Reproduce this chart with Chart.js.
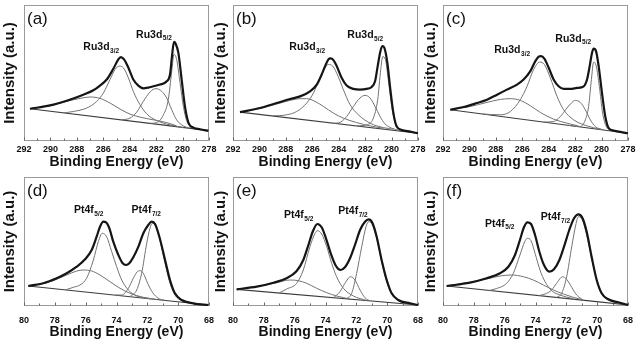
<!DOCTYPE html>
<html><head><meta charset="utf-8">
<script src="https://cdn.jsdelivr.net/npm/chart.js@4.4.1/dist/chart.umd.min.js"></script>
<style>
html,body{margin:0;padding:0;background:#fff;}
body{width:637px;height:341px;position:relative;overflow:hidden;}
canvas{position:absolute;}
</style></head><body>
<canvas id="ca" width="218" height="170" style="left:0px;top:0px"></canvas>
<canvas id="cb" width="218" height="170" style="left:210px;top:0px"></canvas>
<canvas id="cc" width="217" height="170" style="left:420px;top:0px"></canvas>
<canvas id="cd" width="218" height="171" style="left:0px;top:170px"></canvas>
<canvas id="ce" width="218" height="171" style="left:210px;top:170px"></canvas>
<canvas id="cf" width="217" height="171" style="left:420px;top:170px"></canvas>
<script>
// ---------- tick labels ----------
const ruTickLabels = [292, 290, 288, 286, 284, 282, 280, 278];
const ptTickLabels = [80, 78, 76, 74, 72, 70, 68];

// ---------- panel (a) Ru3d ----------  [binding energy (eV), intensity (a.u.)]
const a_background = [[291.55,32.0],[278.05,10.3]];
const a_envelope = [[291.55,32.0],[290.03,35.3],[288.77,40.0],[287.51,46.0],[286.75,50.3],[286.25,55.0],[285.74,61.0],[285.24,71.7],[284.86,81.0],[284.68,83.3],[284.43,81.0],[284.10,72.7],[283.73,61.0],[283.35,55.0],[282.97,52.3],[282.59,53.0],[282.21,54.3],[281.71,56.0],[281.20,59.3],[280.95,66.0],[280.80,84.3],[280.65,98.3],[280.52,96.5],[280.32,87.7],[280.07,61.0],[279.82,34.3],[279.56,18.3],[279.18,13.3],[278.68,11.7],[278.05,10.0]];
const a_peak1 = [[291.55,32.0],[290.03,35.0],[288.77,39.3],[287.76,42.3],[287.00,43.7],[286.25,42.3],[285.49,37.7],[284.73,31.7],[283.98,26.7],[283.22,23.7],[282.21,21.0],[281.20,18.3],[280.45,15.0]];
const a_peak2 = [[289.0,27.9],[288.27,29.3],[287.26,32.7],[286.50,39.3],[285.99,47.7],[285.49,61.0],[285.11,71.0],[284.79,74.3],[284.48,72.7],[284.10,62.7],[283.73,49.3],[283.22,36.0],[282.72,27.0],[281.96,20.3],[280.95,16.0],[279.94,13.3]];
const a_peak3 = [[284.6,21.0],[283.98,22.7],[283.47,28.7],[282.97,39.3],[282.46,48.7],[282.01,52.0],[281.58,49.3],[281.20,42.7],[280.82,31.0],[280.45,21.0],[279.94,15.0],[279.44,12.7]];
const a_peak4 = [[282.5,17.5],[281.96,18.3],[281.45,26.0],[281.08,41.0],[280.82,69.3],[280.65,86.0],[280.45,81.0],[280.19,57.7],[279.94,34.3],[279.69,20.3],[279.31,14.3],[278.68,12.0]];

// ---------- panel (b) Ru3d ----------
const b_background = [[291.47,28.7],[278.0,7.7]];
const b_envelope = [[291.47,28.7],[289.95,32.7],[288.69,37.7],[287.68,41.7],[286.92,44.3],[286.17,49.3],[285.66,56.0],[285.29,66.0],[285.03,74.3],[284.78,81.0],[284.61,82.0],[284.40,80.3],[284.15,74.3],[283.78,62.7],[283.40,55.0],[282.89,51.7],[282.39,51.0],[281.89,51.7],[281.51,53.7],[281.25,59.3],[281.05,74.3],[280.87,87.7],[280.70,94.3],[280.55,92.7],[280.32,77.7],[280.12,54.3],[279.86,27.7],[279.61,14.3],[279.23,11.0],[278.60,9.3],[278.0,7.7]];
const b_peak1 = [[291.47,28.7],[289.95,32.3],[288.69,36.7],[287.68,40.3],[286.92,42.0],[286.42,42.0],[285.79,39.3],[285.16,34.3],[284.40,27.7],[283.65,22.7],[282.64,18.3],[281.63,15.0],[280.62,12.7]];
const b_peak2 = [[289.0,24.9],[287.94,26.0],[287.18,29.3],[286.42,37.7],[285.91,47.7],[285.41,62.7],[285.03,72.7],[284.78,76.0],[284.45,74.3],[284.03,63.7],[283.65,51.0],[283.14,36.0],[282.51,26.0],[281.63,17.7],[280.62,13.3],[279.86,11.7]];
const b_peak3 = [[284.5,17.6],[284.03,17.9],[283.40,24.3],[282.89,34.3],[282.39,42.7],[282.01,45.3],[281.63,42.7],[281.25,34.3],[280.87,24.3],[280.50,17.0],[279.99,12.7],[279.36,10.3]];
const b_peak4 = [[282.6,15.0],[281.89,16.0],[281.38,22.7],[281.05,41.0],[280.82,71.0],[280.67,83.7],[280.47,81.0],[280.25,61.0],[279.99,34.3],[279.74,18.3],[279.36,11.7],[278.60,9.7]];

// ---------- panel (c) Ru3d ----------
const c_background = [[291.45,31.0],[278.0,7.7]];
const c_envelope = [[291.45,31.0],[290.44,33.7],[289.43,37.7],[288.67,41.0],[287.91,46.0],[287.16,51.0],[286.40,56.0],[285.90,61.0],[285.39,69.3],[285.01,79.3],[284.76,83.7],[284.58,84.3],[284.33,81.7],[284.00,72.7],[283.63,61.0],[283.25,54.3],[282.87,51.7],[282.36,51.7],[281.86,52.7],[281.35,54.3],[281.10,61.0],[280.90,74.3],[280.72,87.7],[280.60,91.7],[280.42,89.3],[280.22,74.3],[279.97,47.7],[279.72,24.3],[279.46,12.7],[279.08,10.3],[278.58,9.0],[278.0,7.7]];
const c_peak1 = [[291.45,31.0],[289.93,34.3],[288.67,38.3],[287.66,41.3],[286.90,42.0],[286.15,40.3],[285.39,35.0],[284.63,28.3],[283.63,21.7],[282.62,17.7],[281.61,14.3]];
const c_peak2 = [[289.0,26.8],[287.66,26.0],[286.90,29.3],[286.15,41.0],[285.64,54.3],[285.14,71.0],[284.69,78.3],[284.33,76.0],[283.88,62.7],[283.37,44.3],[282.87,31.0],[282.11,21.0],[281.10,15.0],[280.09,11.7]];
const c_peak3 = [[284.4,18.8],[283.63,19.3],[283.12,24.3],[282.62,32.7],[282.24,38.3],[281.99,40.3],[281.61,38.3],[281.23,31.0],[280.85,21.0],[280.47,14.3],[279.84,11.0]];
const c_peak4 = [[282.5,15.6],[281.61,14.3],[281.23,21.0],[280.98,34.3],[280.77,61.0],[280.60,78.3],[280.40,74.3],[280.17,54.3],[279.92,27.7],[279.64,14.3],[279.21,10.3]];

// ---------- panel (d) Pt4f ----------
const d_background = [[79.72,20.0],[68.04,1.0]];
const d_envelope = [[79.72,20.0],[78.75,22.7],[77.88,27.7],[77.23,32.7],[76.58,39.3],[76.04,46.7],[75.61,56.0],[75.29,69.3],[75.07,79.3],[74.85,84.3],[74.68,83.7],[74.46,77.7],[74.21,64.3],[73.88,51.0],[73.60,42.7],[73.38,41.0],[73.17,42.7],[72.91,48.7],[72.58,59.3],[72.26,72.7],[71.94,81.0],[71.72,84.3],[71.50,82.0],[71.22,69.3],[70.85,46.0],[70.53,26.0],[70.21,12.7],[69.77,6.0],[69.02,2.7],[68.04,1.0]];
const d_peak1 = [[79.72,20.0],[78.31,24.3],[77.23,31.0],[76.58,35.0],[76.15,36.0],[75.61,35.0],[75.07,31.0],[74.42,24.3],[73.77,17.7],[73.12,12.7],[72.26,8.7],[71.39,6.5]];
const d_peak2 = [[77.3,16.1],[76.80,18.7],[76.37,21.0],[75.94,27.7],[75.50,46.0],[75.18,64.3],[74.92,72.7],[74.64,69.3],[74.31,54.3],[73.99,39.3],[73.66,26.0],[73.23,16.0],[72.69,10.0],[71.83,7.3]];
const d_peak3 = [[74.1,10.9],[73.66,11.0],[73.23,17.7],[72.91,27.7],[72.65,34.3],[72.48,35.3],[72.26,32.7],[71.98,22.7],[71.65,13.3],[71.29,7.7],[70.9,5.7]];
const d_peak4 = [[73.12,9.5],[72.69,16.0],[72.37,32.7],[72.04,62.7],[71.83,77.7],[71.68,82.7],[71.44,79.3],[71.18,66.0],[70.85,42.7],[70.53,22.7],[70.21,11.0],[69.77,5.3],[69.23,3.3]];

// ---------- panel (e) Pt4f ----------
const e_background = [[79.76,16.7],[68.0,1.0]];
const e_envelope = [[79.76,16.7],[78.46,19.3],[77.38,23.3],[76.52,27.7],[75.87,35.0],[75.44,46.0],[75.11,61.0],[74.83,74.3],[74.53,82.0],[74.25,78.7],[73.97,67.7],[73.66,52.7],[73.32,40.0],[73.02,36.0],[72.74,38.7],[72.41,47.7],[72.09,61.0],[71.76,76.0],[71.44,84.3],[71.20,86.7],[70.96,83.3],[70.68,69.3],[70.36,46.0],[70.03,26.0],[69.71,12.7],[69.28,6.0],[68.52,2.7],[68.0,1.0]];
const e_peak1 = [[79.76,16.7],[78.25,20.0],[77.17,23.3],[76.30,26.0],[75.76,25.3],[75.22,22.7],[74.57,17.7],[73.92,13.3],[73.28,10.0],[72.41,7.0]];
const e_peak2 = [[77.0,13.0],[76.52,17.0],[75.87,22.7],[75.44,36.0],[75.01,59.3],[74.68,72.7],[74.53,75.3],[74.25,72.0],[73.92,59.3],[73.60,42.7],[73.28,29.3],[72.84,17.7],[72.19,10.0],[71.33,5.5]];
const e_peak3 = [[73.49,8.2],[73.06,14.3],[72.74,22.7],[72.37,29.3],[72.09,26.0],[71.76,16.0],[71.44,8.3],[71.11,5.1]];
const e_peak4 = [[72.63,7.3],[72.30,12.7],[71.98,32.7],[71.65,59.3],[71.37,79.3],[71.20,84.3],[70.96,81.0],[70.68,67.7],[70.36,44.3],[70.03,24.3],[69.71,12.0],[69.28,5.3],[68.52,2.0]];

// ---------- panel (f) Pt4f ----------
const f_background = [[79.76,20.0],[68.0,1.0]];
const f_envelope = [[79.76,20.0],[78.25,23.3],[77.17,27.7],[76.30,32.7],[75.76,39.3],[75.33,51.0],[75.01,66.0],[74.75,78.7],[74.53,83.7],[74.29,82.0],[74.03,71.0],[73.75,54.3],[73.45,41.0],[73.10,34.3],[72.80,36.7],[72.45,46.0],[72.15,59.3],[71.81,76.0],[71.50,87.7],[71.22,91.7],[70.96,88.3],[70.68,74.3],[70.36,49.3],[70.03,26.0],[69.71,12.7],[69.28,6.7],[68.52,3.3],[68.0,1.0]];
const f_peak1 = [[79.76,20.0],[78.25,23.7],[77.17,27.0],[76.30,30.0],[75.55,31.0],[74.79,29.3],[74.14,26.0],[73.49,21.0],[72.84,16.0],[72.19,12.0],[71.55,8.7],[70.90,6.0]];
const f_peak2 = [[77.0,15.5],[76.52,17.5],[75.87,22.7],[75.44,32.7],[75.01,51.0],[74.70,64.3],[74.53,67.7],[74.29,65.3],[74.03,52.7],[73.71,36.0],[73.38,24.3],[72.95,15.3],[72.41,11.0],[71.55,7.3]];
const f_peak3 = [[73.8,10.4],[73.38,12.0],[72.95,16.0],[72.63,22.7],[72.24,29.3],[71.98,26.7],[71.65,18.7],[71.33,11.0],[70.9,6.0]];
const f_peak4 = [[72.63,8.6],[72.30,12.7],[71.98,29.3],[71.65,59.3],[71.39,81.0],[71.22,89.3],[70.96,86.0],[70.68,71.0],[70.36,47.7],[70.03,26.0],[69.71,12.7],[69.28,6.0],[68.52,2.7]];

// ---------- peak label texts ----------
const ruLabels = [['Ru3d','3/2'],['Ru3d','5/2']];
const ptLabels = [['Pt4f','5/2'],['Pt4f','7/2']];

// ================= drawing =================
const FONT = '"Liberation Sans", Arial, Helvetica, sans-serif';

const decor = {
  id: 'decor',
  beforeDatasetsDraw(chart, args, o) {
    const {ctx, chartArea: a, scales: {x}} = chart;
    ctx.save();
    ctx.strokeStyle = '#9a9a9a';
    ctx.lineWidth = 1;
    const L = Math.round(a.left) + 0.5, T = Math.round(a.top) + 0.5;
    const R = Math.round(a.right) - 0.5, B = Math.round(a.bottom) - 0.5;
    ctx.strokeRect(L, T, R - L, B - T);
    ctx.strokeStyle = '#666';
    x.ticks.forEach(t => {
      const px = Math.round(x.getPixelForValue(t.value)) + 0.5;
      const len = (o.labels.includes(t.value)) ? 3 : 2;
      ctx.beginPath(); ctx.moveTo(px, B); ctx.lineTo(px, B - len); ctx.stroke();
    });
    ctx.restore();
  },
  afterDraw(chart, args, o) {
    const {ctx, chartArea: a, scales: {x, y}} = chart;
    ctx.save();
    ctx.fillStyle = '#111';
    ctx.font = '17px ' + FONT;
    ctx.textBaseline = 'middle';
    ctx.textAlign = 'left';
    ctx.fillText(o.letter, a.left + 3, a.top + 14);
    ctx.textBaseline = 'alphabetic';
    o.peaks.forEach(p => {
      const px = x.getPixelForValue(p.x), py = y.getPixelForValue(p.y);
      ctx.font = 'bold 10.5px ' + FONT;
      ctx.fillText(p.main, px, py);
      const w = ctx.measureText(p.main).width;
      ctx.font = 'bold 6.5px ' + FONT;
      ctx.fillText(p.sub, px + w + 0.5, py + 2.5);
    });
    ctx.restore();
  }
};

function ds(data, kind) {
  const st = {
    env: {borderColor: '#151515', borderWidth: 2.2},
    bg:  {borderColor: '#3c3c3c', borderWidth: 1.2},
    pk:  {borderColor: '#727272', borderWidth: 1}
  }[kind];
  return Object.assign({
    data: data.map(p => ({x: p[0], y: p[1]})),
    pointRadius: 0, fill: false, cubicInterpolationMode: 'monotone'
  }, st);
}

function panel(id, P) {
  new Chart(document.getElementById(id), {
    type: 'line',
    data: {datasets: [ds(P.env,'env'), ds(P.p4,'pk'), ds(P.p3,'pk'), ds(P.p2,'pk'), ds(P.p1,'pk'), ds(P.bg,'bg')]},
    plugins: [decor],
    options: {
      responsive: false, animation: false, devicePixelRatio: 1,
      layout: {autoPadding: false, padding: {top: P.padTop, right: P.padRight, left: 0, bottom: 0}},
      plugins: {legend: {display: false}, tooltip: {enabled: false},
        decor: {letter: P.letter, peaks: P.peaks, labels: P.ticks}},
      scales: {
        x: {type: 'linear', reverse: true, min: P.xMin, max: P.xMax,
          afterFit: s => { s.height = P.xh; s.paddingLeft = 0; s.paddingRight = 0; },
          grid: {display: false, drawTicks: false}, border: {display: false},
          ticks: {stepSize: 1, autoSkip: false, maxRotation: 0, minRotation: 0, padding: P.tickPad, color: '#111',
            font: {family: FONT, size: 9, weight: 'bold'},
            callback: v => P.ticks.includes(v) ? String(v) : ''},
          title: {display: true, text: 'Binding Energy (eV)', color: '#111',
            font: {family: FONT, size: 14, weight: 'bold', lineHeight: 1}, padding: {top: 0, bottom: P.xTitlePad}}},
        y: {min: 0, max: P.yMax,
          afterFit: s => { s.width = P.yw; s.paddingTop = 0; s.paddingBottom = 0; },
          grid: {display: false, drawTicks: false}, border: {display: false}, ticks: {display: false},
          title: {display: true, text: 'Intensity (a.u.)', color: '#111',
            font: {family: FONT, size: 15, weight: 'bold', lineHeight: 1}, padding: {top: P.yTitlePad, bottom: 0}}}
      }
    }
  });
}

const topRow = {xMin: 278, xMax: 292, yMax: 135, padTop: 5, xh: 29, tickPad: 3, xTitlePad: 1, ticks: ruTickLabels};
const botRow = {xMin: 68, xMax: 80, yMax: 129, padTop: 7, xh: 35, tickPad: 9, xTitlePad: 1.5, ticks: ptTickLabels};

panel('ca', Object.assign({}, topRow, {letter: '(a)', yw: 24, padRight: 9, yTitlePad: 2.5,
  env: a_envelope, bg: a_background, p1: a_peak1, p2: a_peak2, p3: a_peak3, p4: a_peak4,
  peaks: [{x: 287.51, y: 90.3, main: ruLabels[0][0], sub: ruLabels[0][1]}, {x: 283.52, y: 102.7, main: ruLabels[1][0], sub: ruLabels[1][1]}]}));
panel('cb', Object.assign({}, topRow, {letter: '(b)', yw: 23, padRight: 10, yTitlePad: 3,
  env: b_envelope, bg: b_background, p1: b_peak1, p2: b_peak2, p3: b_peak3, p4: b_peak4,
  peaks: [{x: 287.74, y: 90.3, main: ruLabels[0][0], sub: ruLabels[0][1]}, {x: 283.35, y: 102, main: ruLabels[1][0], sub: ruLabels[1][1]}]}));
panel('cc', Object.assign({}, topRow, {letter: '(c)', yw: 23, padRight: 9, yTitlePad: 3,
  env: c_envelope, bg: c_background, p1: c_peak1, p2: c_peak2, p3: c_peak3, p4: c_peak4,
  peaks: [{x: 288.12, y: 87, main: ruLabels[0][0], sub: ruLabels[0][1]}, {x: 283.5, y: 98.3, main: ruLabels[1][0], sub: ruLabels[1][1]}]}));
panel('cd', Object.assign({}, botRow, {letter: '(d)', yw: 24, padRight: 9, yTitlePad: 2.5,
  env: d_envelope, bg: d_background, p1: d_peak1, p2: d_peak2, p3: d_peak3, p4: d_peak4,
  peaks: [{x: 76.76, y: 92.7, main: ptLabels[0][0], sub: ptLabels[0][1]}, {x: 73.02, y: 92.7, main: ptLabels[1][0], sub: ptLabels[1][1]}]}));
panel('ce', Object.assign({}, botRow, {letter: '(e)', yw: 23, padRight: 10, yTitlePad: 3,
  env: e_envelope, bg: e_background, p1: e_peak1, p2: e_peak2, p3: e_peak3, p4: e_peak4,
  peaks: [{x: 76.69, y: 87.7, main: ptLabels[0][0], sub: ptLabels[0][1]}, {x: 73.17, y: 92, main: ptLabels[1][0], sub: ptLabels[1][1]}]}));
panel('cf', Object.assign({}, botRow, {letter: '(f)', yw: 23, padRight: 9, yTitlePad: 3,
  env: f_envelope, bg: f_background, p1: f_peak1, p2: f_peak2, p3: f_peak3, p4: f_peak4,
  peaks: [{x: 77.28, y: 79.3, main: ptLabels[0][0], sub: ptLabels[0][1]}, {x: 73.66, y: 86, main: ptLabels[1][0], sub: ptLabels[1][1]}]}));
</script>
</body></html>
